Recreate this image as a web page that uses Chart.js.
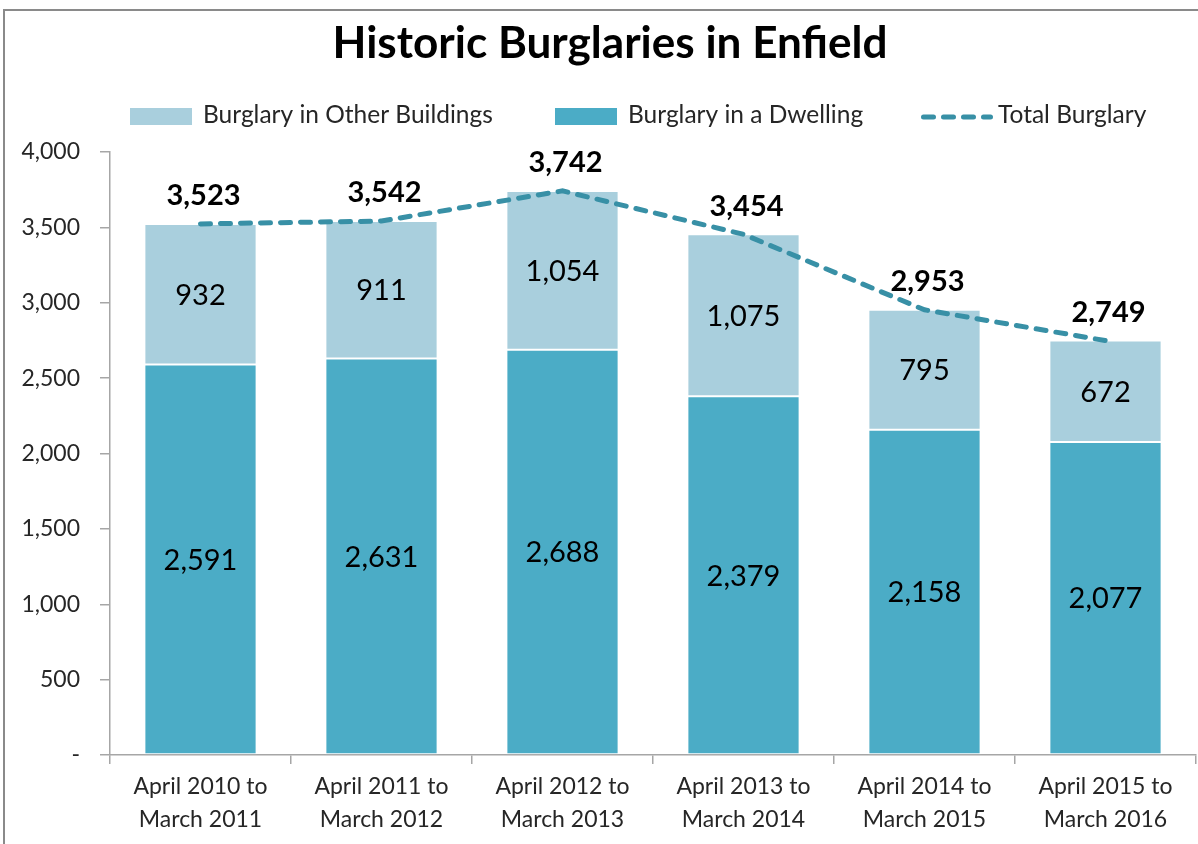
<!DOCTYPE html>
<html><head><meta charset="utf-8">
<script src="https://cdn.jsdelivr.net/npm/chart.js@4.4.0/dist/chart.umd.min.js"></script>
<style>html,body{margin:0;padding:0;background:#fff;overflow:hidden}</style>
</head><body>
<canvas id="c" width="1198" height="844" style="display:block;width:1198px;height:844px"></canvas>
<script>
const chartTitle = "Historic Burglaries in Enfield";
const categories = [
  ["April 2010 to", "March 2011"],
  ["April 2011 to", "March 2012"],
  ["April 2012 to", "March 2013"],
  ["April 2013 to", "March 2014"],
  ["April 2014 to", "March 2015"],
  ["April 2015 to", "March 2016"]
];
const seriesNames = ["Burglary in Other Buildings", "Burglary in a Dwelling", "Total Burglary"];
const dwelling = [2591, 2631, 2688, 2379, 2158, 2077];
const otherBuildings = [932, 911, 1054, 1075, 795, 672];
const totalBurglary = [3523, 3542, 3742, 3454, 2953, 2749];
const yMin = 0, yMax = 4000, yStep = 500;

const FONT = "Lato, 'Open Sans', sans-serif";
const C_LIGHT = "#A9CFDD", C_DARK = "#4BACC6", C_LINE = "#3890A6";
const fmt = v => v === 0 ? "-" : v.toLocaleString("en-US");

function fitSize(ctx, text, weight, target) {
  ctx.font = `${weight} 100px ${FONT}`;
  return 100 * target / ctx.measureText(text).width;
}

const framePlugin = {
  id: "frame",
  beforeDraw(chart) {
    const ctx = chart.ctx;
    ctx.save();
    ctx.fillStyle = "#fff";
    ctx.fillRect(0, 0, chart.width, chart.height);
    ctx.strokeStyle = "#8a8a8a";
    ctx.lineWidth = 2;
    ctx.beginPath();
    ctx.moveTo(4, chart.height);
    ctx.lineTo(4, 10);
    ctx.lineTo(chart.width, 10);
    ctx.stroke();
    ctx.restore();
  }
};

const headerPlugin = {
  id: "header",
  afterDraw(chart) {
    const ctx = chart.ctx;
    ctx.save();
    const ts = fitSize(ctx, chartTitle, "bold", 555);
    ctx.font = `bold ${ts}px ${FONT}`;
    ctx.fillStyle = "#000";
    ctx.textAlign = "center";
    ctx.textBaseline = "alphabetic";
    ctx.fillText(chartTitle, 610, 58);
    const ls = fitSize(ctx, seriesNames[0], "normal", 290);
    ctx.font = `normal ${ls}px ${FONT}`;
    ctx.textAlign = "left";
    ctx.fillStyle = C_LIGHT;
    ctx.fillRect(130, 108, 62, 17);
    ctx.fillStyle = C_DARK;
    ctx.fillRect(555, 108, 62, 17);
    ctx.strokeStyle = C_LINE;
    ctx.lineWidth = 5;
    ctx.lineCap = "round";
    ctx.setLineDash([10, 10]);
    ctx.beginPath();
    ctx.moveTo(923.5, 117);
    ctx.lineTo(990.5, 117);
    ctx.stroke();
    ctx.setLineDash([]);
    ctx.fillStyle = "#262626";
    ctx.fillText(seriesNames[0], 203, 123);
    ctx.fillText(seriesNames[1], 628, 123);
    ctx.fillText(seriesNames[2], 998, 123);
    ctx.restore();
  }
};

const labelPlugin = {
  id: "valueLabels",
  afterDatasetsDraw(chart) {
    const ctx = chart.ctx;
    ctx.save();
    ctx.textAlign = "center";
    ctx.textBaseline = "middle";
    ctx.fillStyle = "#000";
    ctx.font = `normal 29px ${FONT}`;
    [0, 1].forEach(di => {
      const meta = chart.getDatasetMeta(di);
      const data = chart.data.datasets[di].data;
      meta.data.forEach((el, i) => {
        const y = (el.y + el.base) / 2;
        ctx.fillText(fmt(data[i]), el.x, y + 1);
      });
    });
    ctx.font = `bold 29px ${FONT}`;
    const lm = chart.getDatasetMeta(2);
    lm.data.forEach((pt, i) => {
      ctx.fillText(fmt(totalBurglary[i]), pt.x + 3, pt.y - 28);
    });
    ctx.restore();
  }
};

new Chart(document.getElementById("c"), {
  data: {
    labels: categories,
    datasets: [
      { type: "bar", label: seriesNames[1], data: dwelling, backgroundColor: C_DARK,
        borderColor: "#fff", borderWidth: 1, borderSkipped: false, stack: "s", order: 2,
        barPercentage: 0.62, categoryPercentage: 1 },
      { type: "bar", label: seriesNames[0], data: otherBuildings, backgroundColor: C_LIGHT,
        borderColor: "#fff", borderWidth: 1, borderSkipped: false, stack: "s", order: 2,
        barPercentage: 0.62, categoryPercentage: 1 },
      { type: "line", label: seriesNames[2], data: totalBurglary, borderColor: C_LINE,
        borderWidth: 5, borderDash: [10, 10], borderCapStyle: "round", pointRadius: 0,
        fill: false, tension: 0, order: 0 }
    ]
  },
  options: {
    responsive: false,
    animation: false,
    devicePixelRatio: 1,
    layout: { padding: { top: 152, left: 0, right: 2, bottom: 0 } },
    plugins: { legend: { display: false }, title: { display: false }, tooltip: { enabled: false } },
    scales: {
      x: {
        stacked: true,
        offset: true,
        afterFit(s) { s.height = 89; },
        grid: { display: true, drawOnChartArea: false, offset: true, color: "#a6a6a6", lineWidth: 1.5, tickLength: 9 },
        border: { display: true, color: "#a6a6a6", width: 1.5 },
        ticks: { color: "#262626", font: { family: FONT, size: 23, lineHeight: 1.45 }, padding: 6, maxRotation: 0, autoSkip: false }
      },
      y: {
        stacked: true,
        min: yMin, max: yMax,
        afterFit(s) { s.width = 110; },
        grid: { display: true, drawOnChartArea: false, color: "#a6a6a6", lineWidth: 1.5, tickLength: 10 },
        border: { display: true, color: "#a6a6a6", width: 1.5 },
        ticks: { stepSize: yStep, color: "#262626", font: { family: FONT, size: 23 }, padding: 20,
          callback: v => fmt(v) }
      }
    }
  },
  plugins: [framePlugin, headerPlugin, labelPlugin]
});
</script>
</body></html>
